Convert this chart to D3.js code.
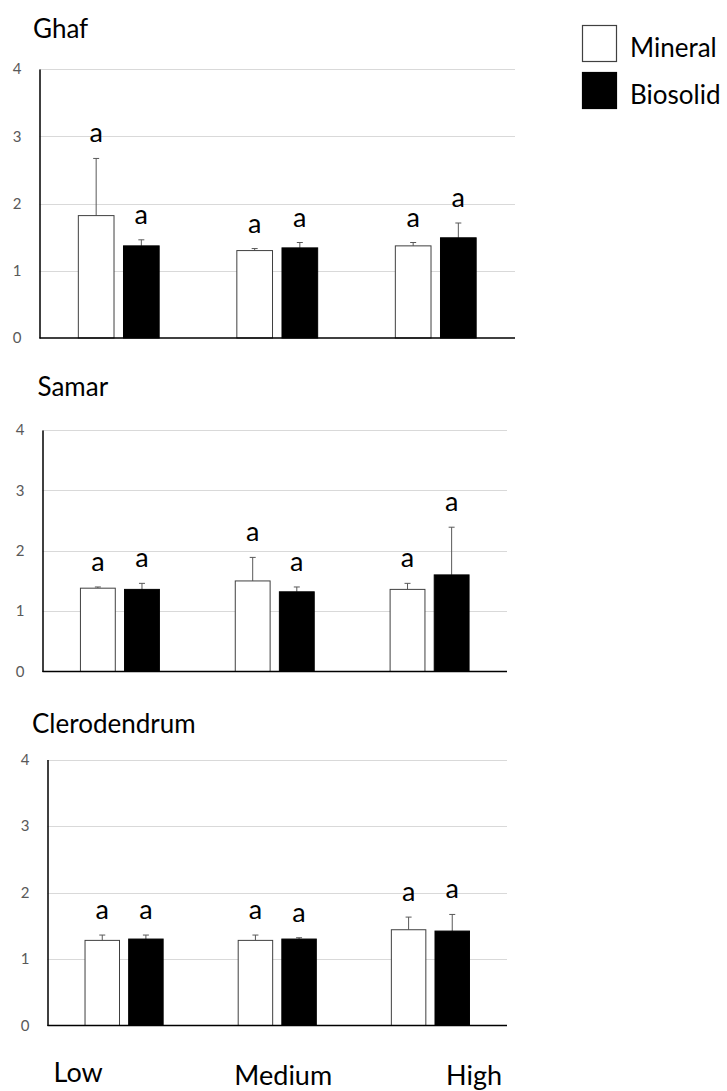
<!DOCTYPE html>
<html>
<head>
<meta charset="utf-8">
<script src="https://cdn.jsdelivr.net/npm/d3@7"></script>
<style>
  html, body { margin: 0; padding: 0; background: #fff; }
  svg { display: block; font-family: Lato, "Open Sans", sans-serif; }
</style>
</head>
<body>
<svg id="chart" width="727" height="1091"></svg>
<script>
// Application rate levels and fertiliser treatments
const rates = ["Low", "Medium", "High"];
const treatments = ["Mineral", "Biosolid"];
const yTicks = [0, 1, 2, 3, 4];

// Mean values per species (Low, Medium, High)
const ghafMineral = [1.82, 1.30, 1.37];
const ghafBiosolid = [1.37, 1.34, 1.49];
const samarMineral = [1.38, 1.50, 1.36];
const samarBiosolid = [1.36, 1.32, 1.60];
const cleroMineral = [1.28, 1.28, 1.44];
const cleroBiosolid = [1.30, 1.30, 1.42];

// Upper error (standard error) per bar
const ghafMineralErr = [0.85, 0.03, 0.05];
const ghafBiosolidErr = [0.09, 0.08, 0.22];
const samarMineralErr = [0.02, 0.39, 0.10];
const samarBiosolidErr = [0.10, 0.08, 0.79];
const cleroMineralErr = [0.08, 0.08, 0.19];
const cleroBiosolidErr = [0.06, 0.02, 0.25];

// Significance letters
const ghafLetters = [["a", "a"], ["a", "a"], ["a", "a"]];
const samarLetters = [["a", "a"], ["a", "a"], ["a", "a"]];
const cleroLetters = [["a", "a"], ["a", "a"], ["a", "a"]];

const species = ["Ghaf", "Samar", "Clerodendrum"];

const panels = [
  { name: species[0], mineral: ghafMineral, biosolid: ghafBiosolid, mErr: ghafMineralErr, bErr: ghafBiosolidErr, letters: ghafLetters,
    left: 39.5, right: 515, top: 69, bottom: 338, titleX: 33, titleY: 38 },
  { name: species[1], mineral: samarMineral, biosolid: samarBiosolid, mErr: samarMineralErr, bErr: samarBiosolidErr, letters: samarLetters,
    left: 42.5, right: 507, top: 430, bottom: 671.5, titleX: 37.5, titleY: 396 },
  { name: species[2], mineral: cleroMineral, biosolid: cleroBiosolid, mErr: cleroMineralErr, bErr: cleroBiosolidErr, letters: cleroLetters,
    left: 47.5, right: 507, top: 759.5, bottom: 1025.5, titleX: 32, titleY: 733 }
];

const svg = d3.select("#chart");
const fills = { Mineral: "#ffffff", Biosolid: "#000000" };

panels.forEach((p, pi) => {
  const g = svg.append("g");

  const y = d3.scaleLinear().domain([0, 4]).range([p.bottom, p.top]);
  const x0 = d3.scaleBand().domain(rates).range([p.left, p.right]).padding(0);
  const span = x0.bandwidth() * 0.51;
  const x1 = d3.scaleBand().domain(treatments).range([-span / 2, span / 2]).paddingInner(0.21).paddingOuter(0);

  // Title
  g.append("text")
    .attr("x", p.titleX).attr("y", p.titleY)
    .attr("font-size", 26).attr("fill", "#000")
    .text(p.name);

  // Gridlines
  g.append("g").selectAll("line")
    .data(yTicks.filter(t => t > 0))
    .join("line")
    .attr("x1", p.left).attr("x2", p.right)
    .attr("y1", d => Math.round(y(d)) + 0.5).attr("y2", d => Math.round(y(d)) + 0.5)
    .attr("stroke", "#d9d9d9").attr("stroke-width", 1.2);

  // Y axis
  const yAxis = g.append("g")
    .attr("transform", `translate(${p.left},0)`)
    .call(d3.axisLeft(y).tickValues(yTicks).tickSize(0).tickPadding(18).tickFormat(d3.format("d")));
  yAxis.select(".domain").attr("stroke", "#000").attr("stroke-width", 1.5);
  yAxis.selectAll("text").attr("font-size", 15).attr("fill", "#595959").attr("font-family", "Lato, sans-serif");

  const rows = rates.map((r, i) => ({
    rate: r,
    bars: [
      { t: "Mineral", v: p.mineral[i], e: p.mErr[i], l: p.letters[i][0] },
      { t: "Biosolid", v: p.biosolid[i], e: p.bErr[i], l: p.letters[i][1] }
    ]
  }));

  const groups = g.append("g").selectAll("g")
    .data(rows)
    .join("g")
    .attr("transform", d => `translate(${x0(d.rate) + x0.bandwidth() / 2},0)`);

  const bars = groups.selectAll("g.bar")
    .data(d => d.bars)
    .join("g").attr("class", "bar");

  // Error bars (upper only)
  bars.append("line")
    .attr("x1", d => x1(d.t) + x1.bandwidth() / 2)
    .attr("x2", d => x1(d.t) + x1.bandwidth() / 2)
    .attr("y1", d => y(d.v)).attr("y2", d => y(d.v + d.e))
    .attr("stroke", "#595959").attr("stroke-width", 1);
  bars.append("line")
    .attr("x1", d => x1(d.t) + x1.bandwidth() / 2 - 3)
    .attr("x2", d => x1(d.t) + x1.bandwidth() / 2 + 3)
    .attr("y1", d => y(d.v + d.e)).attr("y2", d => y(d.v + d.e))
    .attr("stroke", "#595959").attr("stroke-width", 1);

  // Bars
  bars.append("rect")
    .attr("x", d => x1(d.t))
    .attr("width", x1.bandwidth())
    .attr("y", d => y(d.v))
    .attr("height", d => y(0) - y(d.v))
    .attr("fill", d => fills[d.t])
    .attr("stroke", d => d.t === "Mineral" ? "#404040" : "#000")
    .attr("stroke-width", 1);

  // Letters
  bars.append("text")
    .attr("x", d => x1(d.t) + x1.bandwidth() / 2)
    .attr("y", d => y(d.v + d.e) - 16)
    .attr("text-anchor", "middle")
    .attr("font-size", 27).attr("fill", "#000")
    .text(d => d.l);

  // Baseline
  g.append("line")
    .attr("x1", p.left).attr("x2", p.right)
    .attr("y1", y(0)).attr("y2", y(0))
    .attr("stroke", "#000").attr("stroke-width", 1.5);

  // Category labels under the last panel
  if (pi === panels.length - 1) {
    const anchors = ["start", "middle", "end"];
    const xs = [p.left + 6, x0("Medium") + x0.bandwidth() / 2 + 6, p.right - 5];
    g.append("g").selectAll("text")
      .data(rates)
      .join("text")
      .attr("x", (d, i) => xs[i])
      .attr("y", (d, i) => i === 0 ? 1082 : 1085)
      .attr("text-anchor", (d, i) => anchors[i])
      .attr("font-size", 27).attr("fill", "#000")
      .text(d => d);
  }
});

// Legend
const legend = svg.append("g").selectAll("g")
  .data(treatments)
  .join("g")
  .attr("transform", (d, i) => `translate(582,${i === 0 ? 25 : 72})`);
legend.append("rect")
  .attr("x", 0.5).attr("y", 0.5)
  .attr("width", 34).attr("height", 36)
  .attr("fill", d => fills[d])
  .attr("stroke", d => d === "Mineral" ? "#404040" : "#000")
  .attr("stroke-width", 1.2);
legend.append("text")
  .attr("x", 48).attr("y", 31.5)
  .attr("font-size", 26).attr("fill", "#000")
  .text(d => d);
</script>
</body>
</html>
